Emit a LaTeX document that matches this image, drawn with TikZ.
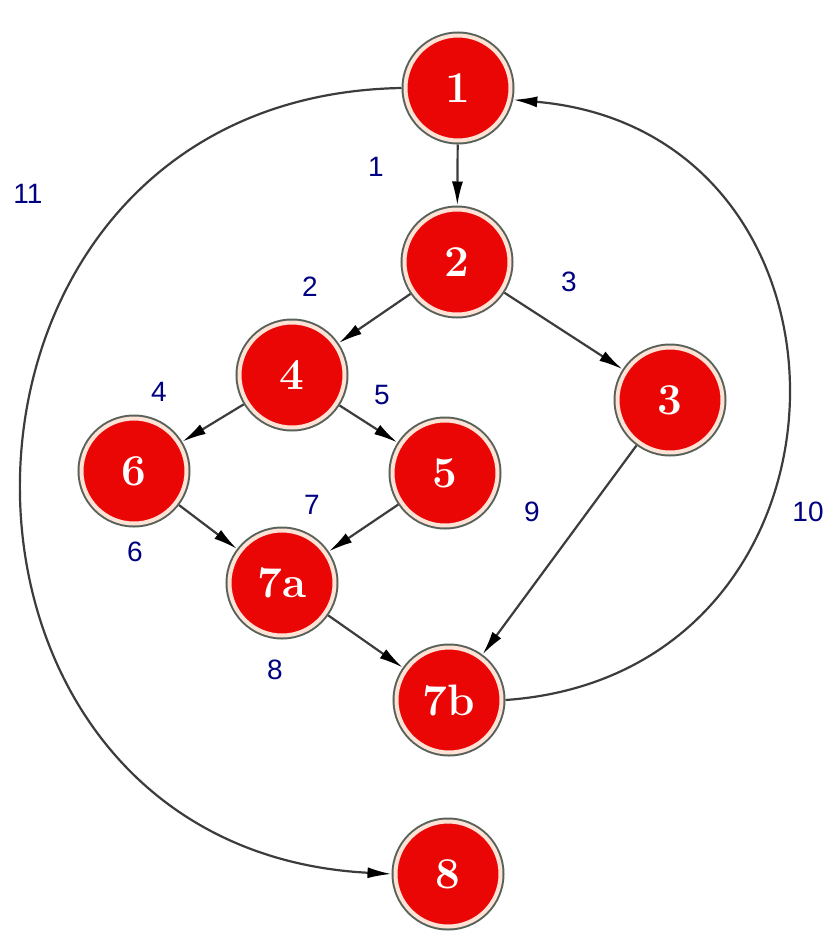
\documentclass[tikz,border=0pt]{standalone}
\usepackage{fontspec}
\setsansfont{Liberation Sans}
\usetikzlibrary{arrows.meta}
\definecolor{nodered}{RGB}{235,6,6}
\definecolor{ringc}{RGB}{255,226,214}
\definecolor{rimc}{RGB}{88,98,88}
\definecolor{edgec}{RGB}{60,60,60}
\definecolor{labc}{RGB}{0,0,128}
\tikzset{
  vnode/.style={circle, fill=nodered, draw=ringc, line width=4pt,
    minimum size=105pt, inner sep=0pt, outer sep=4pt, text=white,
    font=\fontsize{44}{44}\selectfont\bfseries,
    preaction={draw=rimc, line width=8pt}},
  edge/.style={draw=edgec, line width=2.2pt,
    -{Latex[length=24pt,width=11pt,color=black]}},
  lab/.style={text=labc, font=\sffamily\fontsize{28}{28}\selectfont, inner sep=0pt}
}
\begin{document}
\begin{tikzpicture}[x=1pt,y=-1pt]
  \fill[white] (0,0) rectangle (826,932);
  \useasboundingbox (0,0) rectangle (826,932);

  \node[vnode] (n1)  at (458,88)  {1};
  \node[vnode] (n2)  at (457,262) {2};
  \node[vnode] (n4)  at (292,375) {4};
  \node[vnode] (n3)  at (670,400) {3};
  \node[vnode] (n6)  at (134,471) {6};
  \node[vnode] (n5)  at (445,473) {5};
  \node[vnode] (n7a) at (282,583) {7a};
  \node[vnode] (n7b) at (449,700) {7b};
  \node[vnode] (n8)  at (448,874) {8};

  \draw[edge] (n1) -- (n2);
  \draw[edge] (n2) -- (n4);
  \draw[edge] (n2) -- (n3);
  \draw[edge] (n4) -- (n6);
  \draw[edge] (n4) -- (n5);
  \draw[edge] (n6) -- (n7a);
  \draw[edge] (n5) -- (n7a);
  \draw[edge] (n7a) -- (n7b);
  \draw[edge] (n3) -- (n7b);
  \draw[edge] (n7b.east) to[out=4,in=-5,looseness=1.58] (n1.-12);
  \draw[edge] (n1.west) to[out=181,in=177,looseness=1.62] (n8.west);

  \node[lab] (l1)  at (376,167) {1};
  \node[lab] (l11) at (28,194)  {11};
  \node[lab] (l2)  at (310,287) {2};
  \node[lab] (l3)  at (569,282) {3};
  \node[lab] (l4)  at (159,392) {4};
  \node[lab] (l5)  at (382,395) {5};
  \node[lab] (l6)  at (135,552) {6};
  \node[lab] (l7)  at (312,505) {7};
  \node[lab] (l8)  at (275,670) {8};
  \node[lab] (l9)  at (532,512) {9};
  \node[lab] (l10) at (808,512) {10};
\end{tikzpicture}
\end{document}
